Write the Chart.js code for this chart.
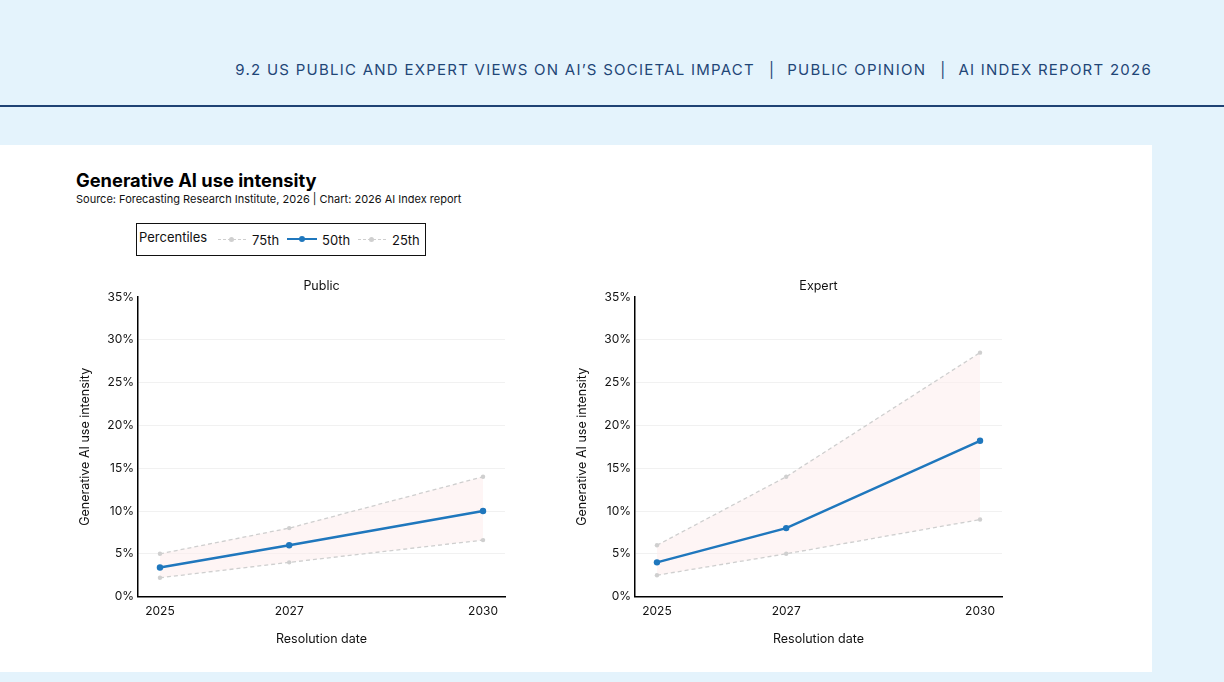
<!DOCTYPE html>
<html>
<head>
<meta charset="utf-8">
<script src="https://cdn.jsdelivr.net/npm/chart.js@4.4.1/dist/chart.umd.min.js"></script>
<style>
  html,body{margin:0;padding:0;}
  body{width:1224px;height:682px;background:#e4f3fc;position:relative;overflow:hidden;font-family:Inter,"Noto Sans",sans-serif;}
  #hdr{position:absolute;right:72px;top:60px;font-size:15px;letter-spacing:1.25px;color:#1f4677;white-space:nowrap;}
  #hdr .sep{display:inline-block;margin:0 12px 0 14px;}
  #rule{position:absolute;left:0;top:105px;width:1224px;height:2px;background:#1f4274;}
  #panel{position:absolute;left:0;top:145px;width:1152px;height:527px;background:#fff;}
  #title{position:absolute;left:76px;top:169px;font-size:18.3px;font-weight:700;color:#000;}
  #src{position:absolute;left:76px;top:192px;font-size:11px;color:#111;}
  #legend{position:absolute;left:136px;top:223px;width:290px;height:33px;border:1.5px solid #111;box-sizing:border-box;font-size:13px;color:#111;}
  #legend span{position:absolute;}
  .ln{position:absolute;height:0;}
  .dot{position:absolute;border-radius:50%;}
  canvas{position:absolute;}
</style>
</head>
<body>
<div id="hdr">9.2 US PUBLIC AND EXPERT VIEWS ON AI’S SOCIETAL IMPACT<span class="sep">|</span>PUBLIC OPINION<span class="sep">|</span>AI INDEX REPORT 2026</div>
<div id="rule"></div>
<div id="panel"></div>
<div id="title">Generative AI use intensity</div>
<div id="src">Source: Forecasting Research Institute, 2026 | Chart: 2026 AI Index report</div>
<div id="legend">
  <span style="left:2px;top:5px;">Percentiles</span>
  <div class="ln" style="left:81px;top:15px;width:28px;border-top:1.3px dashed #cfcfcf;"></div>
  <div class="dot" style="left:92px;top:13px;width:5px;height:5px;background:#cfcfcf;"></div>
  <span style="left:115px;top:8px;">75th</span>
  <div class="ln" style="left:150px;top:14px;width:30px;border-top:2.5px solid #1f77bd;"></div>
  <div class="dot" style="left:162px;top:12px;width:6px;height:6px;background:#1f77bd;"></div>
  <span style="left:185px;top:8px;">50th</span>
  <div class="ln" style="left:221px;top:15px;width:28px;border-top:1.3px dashed #cfcfcf;"></div>
  <div class="dot" style="left:232px;top:13px;width:5px;height:5px;background:#cfcfcf;"></div>
  <span style="left:255px;top:8px;">25th</span>
</div>
<canvas id="c1" style="left:70px;top:272px;width:450px;height:378px;" width="450" height="378"></canvas>
<canvas id="c2" style="left:567px;top:272px;width:450px;height:378px;" width="450" height="378"></canvas>
<script>
const years = [2025, 2027, 2030];
const yTicks = [0, 5, 10, 15, 20, 25, 30, 35];
const public75 = [5.0, 8.0, 14.0];
const public50 = [3.4, 6.0, 10.0];
const public25 = [2.2, 4.0, 6.6];
const expert75 = [6.0, 14.0, 28.5];
const expert50 = [4.0, 8.0, 18.2];
const expert25 = [2.5, 5.0, 9.0];

const FONT = 'Inter, "Noto Sans", sans-serif';
const pts = (vals) => years.map((x, i) => ({x: x, y: vals[i]}));

function makeChart(id, title, p75, p50, p25) {
  return new Chart(document.getElementById(id), {
    type: 'line',
    data: {
      datasets: [
        {label: '75th', data: pts(p75), borderColor: '#cfcfcf', borderWidth: 1.3, borderDash: [4, 3],
         pointRadius: 2.2, pointBackgroundColor: '#cfcfcf', pointBorderWidth: 0,
         fill: '+2', backgroundColor: 'rgba(253,238,238,0.6)', order: 2},
        {label: '50th', data: pts(p50), borderColor: '#1f77bd', borderWidth: 2.5,
         pointRadius: 3.2, pointBackgroundColor: '#1f77bd', pointBorderWidth: 0, fill: false, order: 0},
        {label: '25th', data: pts(p25), borderColor: '#cfcfcf', borderWidth: 1.3, borderDash: [4, 3],
         pointRadius: 2.2, pointBackgroundColor: '#cfcfcf', pointBorderWidth: 0, fill: false, order: 1}
      ]
    },
    options: {
      responsive: false,
      animation: false,
      layout: {padding: {top: 0, right: 15, bottom: 0, left: 0}},
      plugins: {
        legend: {display: false},
        tooltip: {enabled: false},
        title: {display: true, text: title, fullSize: false, color: '#111',
                font: {family: FONT, size: 12.5, weight: 'normal'}, padding: {top: 7, bottom: 3}}
      },
      scales: {
        x: {
          type: 'linear', min: 2024.66, max: 2030.34,
          afterBuildTicks: (s) => { s.ticks = years.map(v => ({value: v})); },
          ticks: {callback: (v) => String(v), color: '#111', font: {family: FONT, size: 12}, padding: 8, maxRotation: 0},
          grid: {display: false, drawTicks: false},
          border: {display: true, color: '#000', width: 1.5},
          title: {display: true, text: 'Resolution date', color: '#111', font: {family: FONT, size: 12.5}, padding: {top: 5, bottom: 3}}
        },
        y: {
          min: 0, max: 35,
          afterBuildTicks: (s) => { s.ticks = yTicks.map(v => ({value: v})); },
          afterFit: (s) => { s.width = 68; },
          ticks: {callback: (v) => v + '%', color: '#111', font: {family: FONT, size: 12}, padding: 4},
          grid: {color: (c) => (c.tick && (c.tick.value === 0 || c.tick.value === 35)) ? 'rgba(0,0,0,0)' : '#f1f1f1',
                 drawTicks: false, lineWidth: 1},
          border: {display: true, color: '#000', width: 1.5},
          title: {display: true, text: 'Generative AI use intensity', color: '#111', font: {family: FONT, size: 12.5}, padding: {top: 8, bottom: 4}}
        }
      }
    }
  });
}
makeChart('c1', 'Public', public75, public50, public25);
makeChart('c2', 'Expert', expert75, expert50, expert25);
</script>
</body>
</html>
